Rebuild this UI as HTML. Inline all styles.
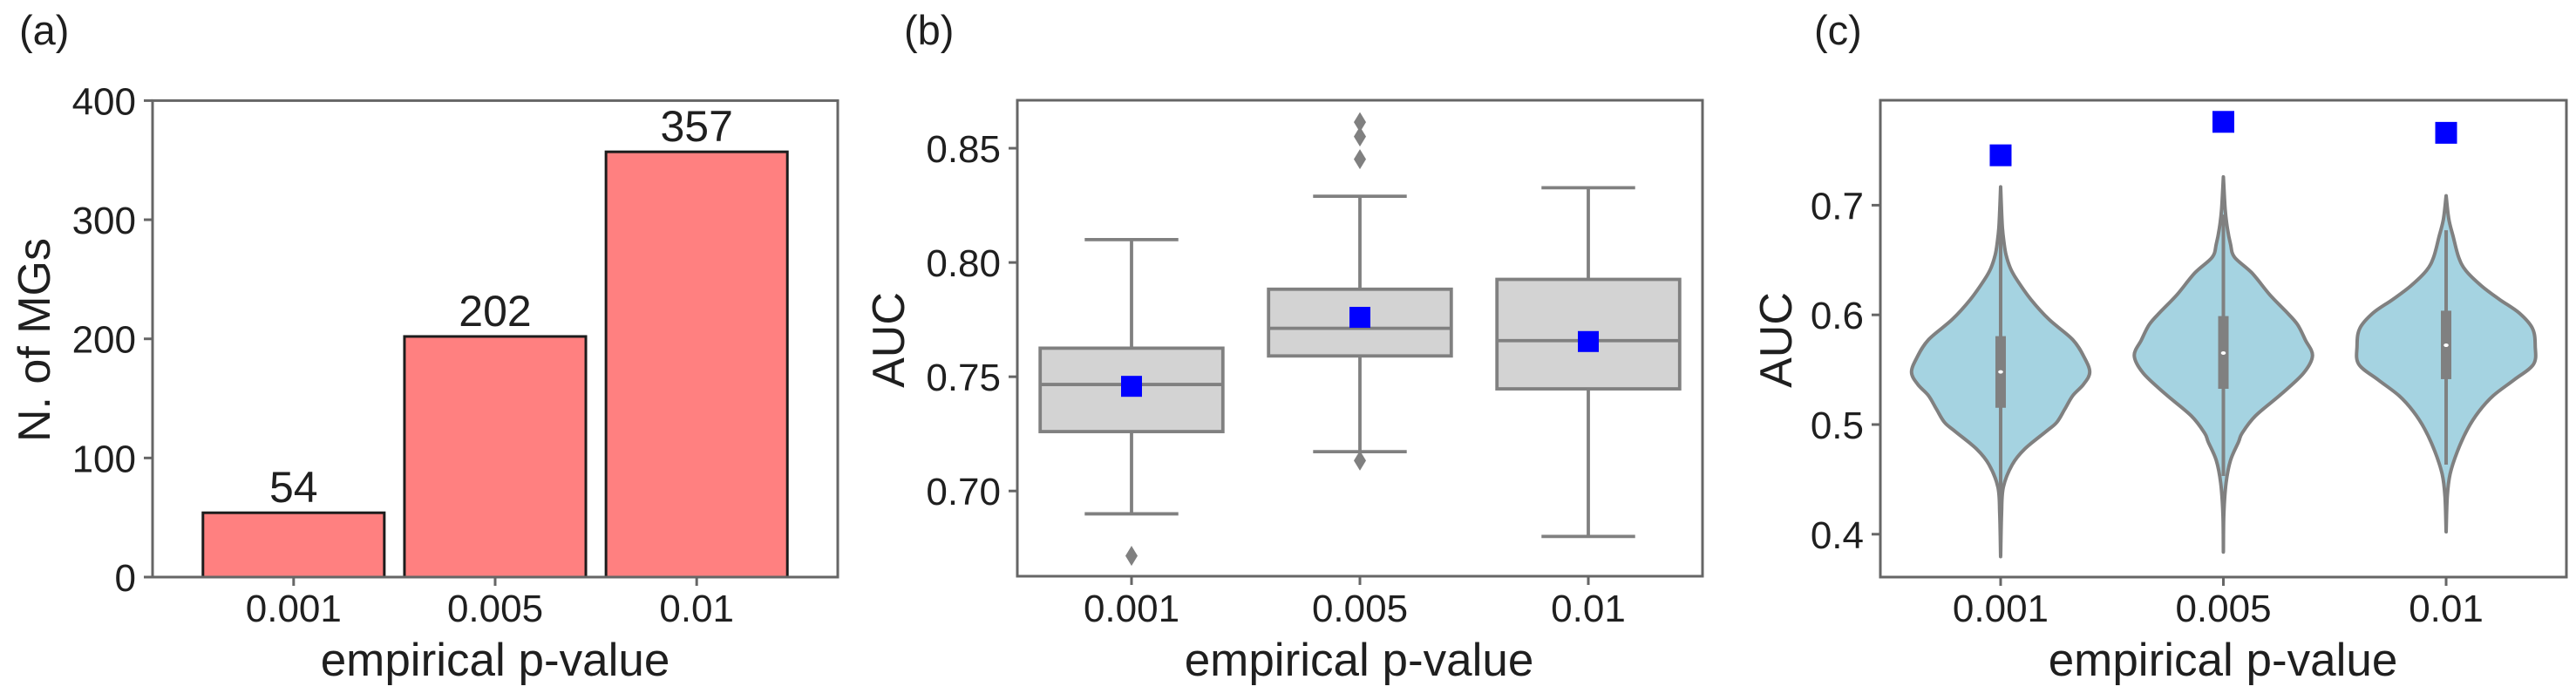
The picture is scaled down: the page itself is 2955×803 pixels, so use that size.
<!DOCTYPE html>
<html lang="en">
<head>
<meta charset="utf-8">
<title>Empirical p-value panels</title>
<style>
html,body{margin:0;padding:0;background:#fff;width:2955px;height:803px;overflow:hidden}
svg{display:block}
text{font-family:"Liberation Sans",sans-serif;fill:#1f1f1f}
.tick{font-size:44px}
.title{font-size:53px}
.ylab{font-size:52px}
.panel{font-size:47px}
.val{font-size:50px}
</style>
</head>
<body>
<svg id="figure" xmlns="http://www.w3.org/2000/svg" width="2955" height="803" viewBox="0 0 2955 803">
  <rect width="2955" height="803" fill="#fff"/>
  <g id="panel-a">
    <text class="panel" x="22" y="51">(a)</text>
    <text class="title" x="568" y="775" text-anchor="middle">empirical p-value</text>
    <text class="ylab" transform="translate(57,390) rotate(-90)" text-anchor="middle">N. of MGs</text>
  </g>
  <g id="panel-b">
    <text class="panel" x="1037" y="51">(b)</text>
    <text class="title" x="1559" y="775" text-anchor="middle">empirical p-value</text>
    <text class="ylab" transform="translate(1037,390) rotate(-90)" text-anchor="middle">AUC</text>
  </g>
  <g id="panel-c">
    <text class="panel" x="2081" y="51">(c)</text>
    <text class="title" x="2550" y="775" text-anchor="middle">empirical p-value</text>
    <text class="ylab" transform="translate(2055,390) rotate(-90)" text-anchor="middle">AUC</text>
  </g>
</svg>
<script>
// Shared categories
const categories = ['0.001', '0.005', '0.01'];

// Panel (a) data
const barCounts = [54, 202, 357];
const barTicks = [0, 100, 200, 300, 400];

// Panel (b) data
const boxTicks = ['0.70', '0.75', '0.80', '0.85'];
const boxQ1 = [0.726, 0.7591, 0.7447];
const boxMedian = [0.7466, 0.7712, 0.7658];
const boxQ3 = [0.7625, 0.7883, 0.7926];
const boxWhiskerLow = [0.690, 0.7172, 0.6801];
const boxWhiskerHigh = [0.810, 0.829, 0.8327];
const boxOutliers = [[0.6716], [0.8614, 0.8551, 0.8452, 0.7133], []];
const boxMeans = [0.7458, 0.776, 0.7654];

// Panel (c) data
const violinTicks = ['0.4', '0.5', '0.6', '0.7'];
const violinLevels1 = [0.7167, 0.6955, 0.6792, 0.667, 0.655, 0.6425, 0.6323, 0.614, 0.5957, 0.5773, 0.561, 0.5476, 0.5366, 0.5264, 0.514, 0.502, 0.4937, 0.4777, 0.4634, 0.4428, 0.4182, 0.3796];
const violinDensity1 = [0, 0.01, 0.02, 0.036, 0.06, 0.11, 0.18, 0.34, 0.545, 0.81, 0.94, 1, 0.93, 0.81, 0.72, 0.63, 0.51, 0.27, 0.13, 0.03, 0.01, 0];
const violinLevels2 = [0.7258, 0.6963, 0.6789, 0.6645, 0.6526, 0.6383, 0.6184, 0.6033, 0.5914, 0.5771, 0.5628, 0.5469, 0.5278, 0.5079, 0.4921, 0.4841, 0.4674, 0.4467, 0.4181, 0.3838];
const violinDensity2 = [0, 0.02, 0.045, 0.08, 0.125, 0.32, 0.52, 0.7, 0.83, 0.92, 1, 0.9, 0.65, 0.36, 0.21, 0.17, 0.08, 0.03, 0.005, 0];
const violinLevels3 = [0.7086, 0.6874, 0.6711, 0.6527, 0.6405, 0.6262, 0.614, 0.6017, 0.5875, 0.5712, 0.5549, 0.5406, 0.5264, 0.5121, 0.4958, 0.4754, 0.455, 0.4347, 0.4022];
const violinDensity3 = [0, 0.03, 0.08, 0.14, 0.22, 0.4, 0.6, 0.82, 0.97, 1, 0.98, 0.76, 0.53, 0.37, 0.24, 0.126, 0.045, 0.013, 0];
const violinQ1 = [0.5153, 0.5326, 0.5414];
const violinMedian = [0.548, 0.5652, 0.5723];
const violinQ3 = [0.5806, 0.5989, 0.6038];
const violinWhiskerLow = [0.4348, 0.4531, 0.4634];
const violinWhiskerHigh = [0.6795, 0.6915, 0.6772];
const violinMeans = [0.7455, 0.776, 0.766];

const NS = 'http://www.w3.org/2000/svg';
const SPINE = '#666666';
const GREY = '#808080';

function linear(d0, d1, r0, r1) {
  return function (v) { return r0 + (v - d0) * (r1 - r0) / (d1 - d0); };
}
function shape(parent, tag, attrs) {
  const el = document.createElementNS(NS, tag);
  Object.keys(attrs).forEach(function (k) { el.setAttribute(k, attrs[k]); });
  parent.appendChild(el);
  return el;
}
function smoothPath(pts) {
  let d = 'M' + pts[0][0].toFixed(2) + ' ' + pts[0][1].toFixed(2);
  for (let i = 0; i < pts.length - 1; i++) {
    const p0 = pts[Math.max(i - 1, 0)], p1 = pts[i], p2 = pts[i + 1], p3 = pts[Math.min(i + 2, pts.length - 1)];
    const c1x = p1[0] + (p2[0] - p0[0]) / 6, c1y = p1[1] + (p2[1] - p0[1]) / 6;
    const c2x = p2[0] - (p3[0] - p1[0]) / 6, c2y = p2[1] - (p3[1] - p1[1]) / 6;
    d += 'C' + c1x.toFixed(2) + ' ' + c1y.toFixed(2) + ' ' + c2x.toFixed(2) + ' ' + c2y.toFixed(2) + ' ' + p2[0].toFixed(2) + ' ' + p2[1].toFixed(2);
  }
  return d;
}

function drawFrame(g, box, x, y, yTickValues) {
  const frame = shape(g, 'rect', { x: box.l, y: box.t, width: box.r - box.l, height: box.b - box.t, fill: 'none', stroke: SPINE, 'stroke-width': 3 });
  
  
  yTickValues.forEach(function (t) {
    const py = y(parseFloat(t));
    const tick = shape(g, 'line', { x1: box.l - 10, x2: box.l, y1: py, y2: py, stroke: SPINE, 'stroke-width': 3 });
    
    
    const label = shape(g, 'text', { x: box.l - 19, y: py + 16, 'text-anchor': 'end', class: 'tick' });
    label.textContent = String(t);
    
    
  });
  categories.forEach(function (c, i) {
    const px = x(i);
    const tick = shape(g, 'line', { x1: px, x2: px, y1: box.b, y2: box.b + 10, stroke: SPINE, 'stroke-width': 3 });
    
    
    const label = shape(g, 'text', { x: px, y: 713, 'text-anchor': 'middle', class: 'tick' });
    label.textContent = c;
    
    
  });
}

function drawMean(g, px, py, size) {
  const m = shape(g, 'rect', { x: px - size / 2, y: py - size / 2, width: size, height: size, fill: '#0000ff' });
  
  
}

/* ---------- Panel (a) ---------- */
(function () {
  const g = document.getElementById('panel-a');
  const box = { l: 175, r: 961, t: 115.4, b: 662 };
  const x = linear(-0.7, 2.7, box.l, box.r);
  const y = linear(0, 400, box.b, box.t);
  const bw = (x(1) - x(0)) * 0.9;
  barCounts.forEach(function (v, i) {
    const bar = shape(g, 'rect', { x: x(i) - bw / 2, y: y(v), width: bw, height: y(0) - y(v), fill: '#ff8080', stroke: '#1c1c1c', 'stroke-width': 3 });
    
    
    const label = shape(g, 'text', { x: x(i), y: y(v) - 12, 'text-anchor': 'middle', class: 'val' });
    label.textContent = String(v);
    
    
  });
  drawFrame(g, box, x, y, barTicks);
})();

/* ---------- Panel (b) ---------- */
(function () {
  const g = document.getElementById('panel-b');
  const box = { l: 1167, r: 1953, t: 115, b: 661 };
  const x = linear(-0.5, 2.5, box.l, box.r);
  const y = linear(0.6627, 0.871, box.b, box.t);
  const band = x(1) - x(0);
  const bw = band * 0.8;
  const capW = band * 0.41;
  categories.forEach(function (c, i) {
    const cx = x(i);
    const stem = shape(g, 'path', {
      d: 'M' + cx + ' ' + y(boxWhiskerHigh[i]) + 'V' + y(boxQ3[i]) + 'M' + cx + ' ' + y(boxQ1[i]) + 'V' + y(boxWhiskerLow[i]),
      stroke: GREY, 'stroke-width': 3.8, fill: 'none'
    });
    
    
    [boxWhiskerHigh[i], boxWhiskerLow[i]].forEach(function (v) {
      const cap = shape(g, 'line', { x1: cx - capW / 2, x2: cx + capW / 2, y1: y(v), y2: y(v), stroke: GREY, 'stroke-width': 3.8 });
      
      
    });
    const rect = shape(g, 'rect', { x: cx - bw / 2, y: y(boxQ3[i]), width: bw, height: y(boxQ1[i]) - y(boxQ3[i]), fill: '#d3d3d3', stroke: GREY, 'stroke-width': 3.8 });
    
    
    const med = shape(g, 'line', { x1: cx - bw / 2, x2: cx + bw / 2, y1: y(boxMedian[i]), y2: y(boxMedian[i]), stroke: GREY, 'stroke-width': 3.8 });
    
    
    boxOutliers[i].forEach(function (v) {
      const py = y(v);
      const o = shape(g, 'path', { d: 'M' + cx + ' ' + (py - 11.5) + 'L' + (cx + 7) + ' ' + py + 'L' + cx + ' ' + (py + 11.5) + 'L' + (cx - 7) + ' ' + py + 'Z', fill: GREY });
      
      
    });
    drawMean(g, cx, y(boxMeans[i]), 24);
  });
  drawFrame(g, box, x, y, boxTicks);
})();

/* ---------- Panel (c) ---------- */
(function () {
  const g = document.getElementById('panel-c');
  const box = { l: 2157, r: 2944, t: 115, b: 662 };
  const x = linear(-0.54, 2.54, box.l, box.r);
  const y = linear(0.3609, 0.7957, box.b, box.t);
  const maxHalf = (x(1) - x(0)) * 0.4;
  const levels = [violinLevels1, violinLevels2, violinLevels3];
  const densities = [violinDensity1, violinDensity2, violinDensity3];
  categories.forEach(function (c, i) {
    const cx = x(i);
    const right = levels[i].map(function (v, k) { return [cx + densities[i][k] * maxHalf, y(v)]; });
    const left = levels[i].map(function (v, k) { return [cx - densities[i][k] * maxHalf, y(v)]; }).reverse();
    const body = shape(g, 'path', { d: smoothPath(right) + smoothPath(left).replace(/^M[^C]*/, '') + 'Z', fill: '#a5d3e1', stroke: GREY, 'stroke-width': 4, 'stroke-linejoin': 'round' });
    
    
    const whisker = shape(g, 'line', { x1: cx, x2: cx, y1: y(violinWhiskerHigh[i]), y2: y(violinWhiskerLow[i]), stroke: GREY, 'stroke-width': 4 });
    
    
    const iqr = shape(g, 'rect', { x: cx - 6, y: y(violinQ3[i]), width: 12, height: y(violinQ1[i]) - y(violinQ3[i]), fill: GREY });
    
    
    const med = shape(g, 'ellipse', { cx: cx, cy: y(violinMedian[i]), rx: 2.8, ry: 2, fill: '#ffffff' });
    
    
    drawMean(g, cx, y(violinMeans[i]), 25);
  });
  drawFrame(g, box, x, y, violinTicks);
})();
</script>
</body>
</html>
